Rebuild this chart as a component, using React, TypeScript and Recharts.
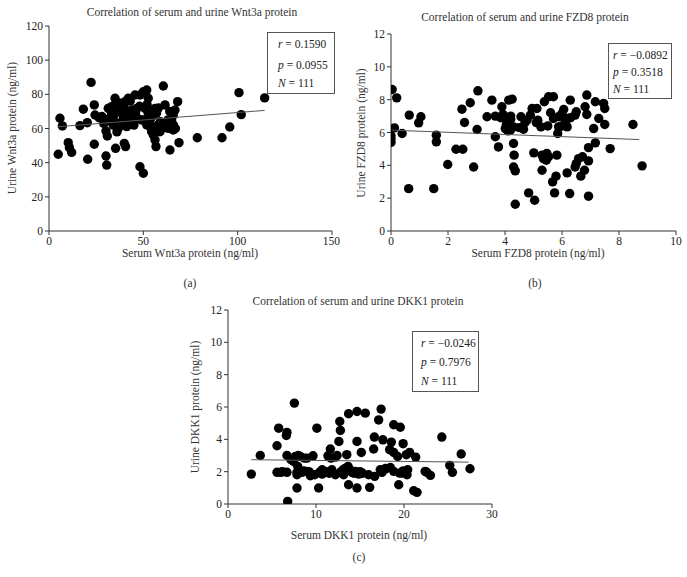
import { ScatterChart, Scatter, XAxis, YAxis } from "recharts";

// serum (x) vs urine (y), ng/ml
const wnt3aPoints: [number, number][] = [
  [22.3, 87.0], [60.6, 84.9], [5.8, 66], [7.1, 61.5], [4.9, 44.9], [10.2, 51.7], [10.8, 48.8], [12, 46],
  [16.4, 61.7], [18.2, 71.3], [20.3, 63.4], [20.5, 42], [24, 73.8], [24, 50.8], [24.4, 67.9], [26.5, 66.3],
  [28.8, 65.4], [30.6, 64.4], [30.2, 58.5], [30.9, 55.6], [30.2, 43.9], [30.6, 38.6], [31.4, 71.8], [33.2, 72.8],
  [34.1, 66.9], [35, 77.7], [35.3, 74.8], [35.9, 63.1], [35.3, 48.4], [36.7, 60.1], [37.1, 71.8], [38.5, 68.9],
  [40.3, 75.7], [39.9, 51.3], [40.6, 49.4], [41.2, 61.1], [39.4, 66], [42, 77.7], [42.9, 66.9], [44.1, 70.8],
  [45.6, 79.6], [48.2, 79.6], [46.5, 71.8], [48.2, 37.6], [50, 33.8], [50, 81.5], [51.8, 82.5], [52.6, 77.7],
  [50.9, 71.8], [52.6, 68.9], [50, 65], [51.8, 62.1], [53.5, 61.1], [54.4, 58.1], [55.3, 56.2], [56.2, 53.3],
  [56.7, 49.4], [55.3, 67.9], [56.2, 71.8], [57.9, 62.1], [58.8, 58.1], [61.5, 73.8], [60.6, 61.1], [63.2, 60.1],
  [64.1, 47.4], [65, 63.1], [65.9, 67.9], [66.8, 70.8], [68.2, 75.7], [65.9, 59.1], [68.9, 51.7], [65, 65],
  [78.6, 54.6], [91.7, 54.6], [95.8, 60.9], [100.7, 81], [101.9, 68.1], [114.3, 77.9],
  [33, 70], [37, 75], [38, 73], [40, 72], [43, 76], [44, 68], [46, 70], [47, 66], [48, 73], [52, 74], [53, 70],
  [54, 66], [57, 69], [58, 72], [60, 60], [62, 62], [63, 65], [66, 62], [67, 60], [45, 62], [42, 64], [39, 62],
  [36, 58], [34, 62], [32, 66], [28, 67], [29, 63], [35, 70], [41, 68], [49, 65], [55, 61], [59, 64], [64, 70],
];
const wnt3aTrend: [number, number][] = [[4.5, 61], [114.3, 70.6]];

const fzd8Points: [number, number][] = [
  [0.04, 8.62], [0.2, 8.11], [0.12, 6.28], [0, 5.8], [0, 5.6], [0, 5.4], [0.39, 5.94], [0.62, 2.58], [0.64, 7.06],
  [0.97, 6.59], [1.05, 6.96], [1.5, 2.58], [1.59, 5.84], [1.59, 5.43], [1.99, 4.05], [2.28, 4.98], [2.52, 4.98],
  [2.49, 7.42], [2.58, 6.61], [2.78, 7.81], [2.9, 3.9], [3.05, 8.54], [3.02, 6.18], [3.37, 6.96], [3.54, 7.97],
  [3.66, 5.74], [3.77, 5.12], [3.66, 7.0], [3.89, 7.57], [3.93, 7.1], [4.01, 6.24], [4.07, 6.75], [4.13, 7.97],
  [4.25, 8.03], [4.19, 6.14], [4.3, 6.34], [4.3, 5.33], [4.32, 4.62], [4.3, 3.9], [4.36, 3.66], [4.36, 1.63],
  [4.56, 6.96], [4.65, 6.2], [4.77, 6.75], [4.89, 7.06], [4.95, 7.46], [4.83, 2.32], [5.01, 4.76], [5.04, 1.87],
  [5.12, 7.46], [5.15, 6.75], [5.26, 6.34], [5.3, 4.62], [5.3, 3.7], [5.38, 7.87], [5.45, 4.31], [5.53, 4.52],
  [5.53, 8.18], [5.47, 4.72], [5.7, 8.18], [5.67, 2.99], [5.7, 6.85], [5.74, 2.32], [5.79, 3.34], [5.82, 4.62],
  [5.85, 5.94], [5.88, 6.34], [5.88, 6.96], [6.0, 7.16], [6.06, 7.4], [6.12, 6.71], [6.18, 6.85], [6.18, 6.34],
  [6.18, 3.54], [6.29, 7.97], [6.27, 2.28], [6.46, 3.9], [6.5, 4.11], [6.5, 7.26], [6.46, 7.06], [6.58, 4.41],
  [6.72, 4.52], [6.66, 3.34], [6.79, 3.7], [6.81, 7.57], [6.87, 8.28], [6.87, 7.1], [6.93, 5.08], [6.93, 4.27],
  [6.93, 2.12], [7.11, 6.24], [7.17, 7.87], [7.17, 5.37], [7.29, 6.85], [7.46, 7.77], [7.5, 7.46], [7.5, 6.49],
  [7.69, 5.02], [8.49, 6.49], [8.81, 3.97],
  [4.05, 6.5], [4.2, 7.0], [4.5, 6.3], [4.7, 6.6], [5.1, 6.6], [5.5, 6.4], [5.6, 7.2], [6.0, 6.4], [6.3, 6.9],
  [3.85, 6.9], [4.1, 6.1], [5.35, 4.4], [4.2, 6.8],
];
const fzd8Trend: [number, number][] = [[0.04, 6.14], [8.71, 5.57]];

const dkk1Points: [number, number][] = [
  [2.65, 1.85], [3.67, 3.0], [5.57, 1.96], [5.57, 3.6], [5.76, 4.69], [6.02, 1.96], [6.63, 4.24], [6.7, 4.43],
  [6.7, 3.0], [6.7, 1.96], [6.78, 0.16], [7.16, 2.74], [7.54, 6.24], [7.46, 2.63], [7.65, 2.94], [7.84, 1.96],
  [7.84, 1.81], [7.84, 0.99], [7.92, 2.33], [8.22, 2.94], [8.4, 1.96], [8.67, 2.84], [8.98, 2.02], [8.98, 2.84],
  [9.36, 1.75], [9.66, 2.98], [9.85, 1.81], [10.1, 4.69], [10.3, 0.99], [10.4, 1.96], [10.7, 2.12], [11.06, 1.96],
  [11.36, 2.98], [11.63, 3.4], [11.7, 2.84], [11.8, 2.12], [12.2, 1.81], [12.4, 3.0], [12.6, 3.87], [12.7, 5.1],
  [12.77, 4.55], [12.77, 1.96], [13.07, 2.12], [13.14, 1.81], [13.5, 3.05], [13.64, 2.33], [13.7, 5.58], [13.7, 1.19],
  [14.1, 1.96], [14.47, 2.02], [14.66, 5.72], [14.66, 3.87], [14.66, 0.99], [14.85, 1.85], [15.15, 3.19], [15.6, 5.62],
  [15.98, 1.81], [16.1, 1.03], [16.55, 3.4], [16.63, 4.14], [16.67, 1.71], [17.12, 5.2], [17.3, 2.12], [17.4, 5.87],
  [17.5, 1.96], [17.6, 3.97], [17.88, 2.16], [18.37, 3.36], [18.45, 2.26], [18.56, 3.83], [18.83, 3.19], [18.83, 2.02],
  [18.83, 4.9], [19.28, 2.94], [19.4, 1.19], [19.5, 1.91], [19.58, 4.75], [19.85, 1.91], [19.9, 3.73], [20.08, 1.96],
  [20.27, 3.05], [20.34, 1.81], [20.64, 3.19], [20.42, 2.12], [21.1, 0.82], [21.48, 0.72], [21.33, 2.9], [22.4, 2.02],
  [22.6, 1.96], [23.0, 1.77], [24.3, 4.14], [25.2, 2.39], [25.5, 1.96], [26.5, 3.09], [27.5, 2.18],
  [9.2, 2.0], [11.5, 1.9], [12.9, 2.0], [13.3, 2.2], [14.3, 1.9], [15.3, 1.9], [10.7, 1.85], [8.6, 2.05],
  [6.2, 2.0], [12.2, 2.9], [15.0, 2.0], [17.9, 2.2], [19.9, 2.05], [8.0, 3.0], [11.2, 2.0], [13.9, 2.1],
];
const dkk1Trend: [number, number][] = [[2.65, 2.74], [27.35, 2.59]];

const wnt3aXTicks = [0, 50, 100, 150];
const wnt3aYTicks = [0, 20, 40, 60, 80, 100, 120];
const fzd8XTicks = [0, 2, 4, 6, 8, 10];
const fzd8YTicks = [0, 2, 4, 6, 8, 10, 12];
const dkk1XTicks = [0, 10, 20, 30];
const dkk1YTicks = [0, 2, 4, 6, 8, 10, 12];

const wnt3aStats = ["0.1590", "0.0955", "111"];
const fzd8Stats = ["\u22120.0892", "0.3518", "111"];
const dkk1Stats = ["\u22120.0246", "0.7976", "111"];

const FONT = "'Liberation Serif', 'DejaVu Serif', serif";
const AXIS = "#333";
const FS = 11.5;

const toObj = (pts: [number, number][]) => pts.map(([x, y]) => ({ x, y }));

const Dot = (p: any) => <circle cx={p.cx} cy={p.cy} r={4.7} fill="#000" />;
const NoDot = () => <g />;

interface PanelProps {
  left: number;
  top: number;
  width: number;
  height: number;
  margin: { top: number; right: number; bottom: number; left: number };
  points: [number, number][];
  trend: [number, number][];
  xDomain: [number, number];
  yDomain: [number, number];
  xTicks: number[];
  yTicks: number[];
}

function Panel(props: PanelProps) {
  const { left, top, width, height, margin, points, trend, xDomain, yDomain, xTicks, yTicks } = props;
  const tick = { fontSize: FS, fill: "#222", fontFamily: FONT };
  return (
    <div style={{ position: "absolute", left, top }}>
      <ScatterChart width={width} height={height} margin={margin}>
        <XAxis
          type="number"
          dataKey="x"
          domain={xDomain}
          ticks={xTicks}
          tick={tick}
          tickSize={4}
          height={30}
          stroke={AXIS}
          allowDataOverflow
        />
        <YAxis
          type="number"
          dataKey="y"
          domain={yDomain}
          ticks={yTicks}
          tick={tick}
          tickSize={4}
          width={30}
          stroke={AXIS}
          allowDataOverflow
        />
        <Scatter data={toObj(points)} shape={Dot} isAnimationActive={false} />
        <Scatter
          data={toObj(trend)}
          line={{ stroke: "#555", strokeWidth: 1 }}
          shape={NoDot}
          isAnimationActive={false}
        />
      </ScatterChart>
    </div>
  );
}

function Text({ x, y, children }: any) {
  return (
    <div
      style={{
        position: "absolute",
        left: x,
        top: y,
        transform: "translate(-50%, -50%)",
        fontFamily: FONT,
        fontSize: FS,
        color: "#333",
        whiteSpace: "nowrap",
      }}
    >
      {children}
    </div>
  );
}

function VText({ x, y, children }: any) {
  return (
    <div
      style={{
        position: "absolute",
        left: x,
        top: y,
        transform: "translate(-50%, -50%) rotate(-90deg)",
        fontFamily: FONT,
        fontSize: FS,
        color: "#333",
        whiteSpace: "nowrap",
      }}
    >
      {children}
    </div>
  );
}

function StatsBox({ x, y, w, h, stats, rows }: any) {
  return (
    <div
      style={{
        position: "absolute",
        left: x,
        top: y,
        width: w,
        height: h,
        border: "1.5px solid #555",
        background: "#fff",
        boxSizing: "border-box",
        fontFamily: FONT,
        fontSize: FS,
        color: "#222",
      }}
    >
      {["r", "p", "N"].map((k, i) => (
        <div key={k} style={{ position: "absolute", left: rows.left, top: rows.top[i], whiteSpace: "nowrap", lineHeight: "12px" }}>
          <i>{k}</i> = {stats[i]}
        </div>
      ))}
    </div>
  );
}

export default function App() {
  return (
    <div style={{ position: "absolute", left: 0, top: 0, width: 687, height: 577, background: "#fff", overflow: "hidden" }}>
      <Panel
        left={0}
        top={0}
        width={340}
        height={290}
        margin={{ top: 26, right: 8, bottom: 29, left: 19 }}
        points={wnt3aPoints}
        trend={wnt3aTrend}
        xDomain={[0, 150]}
        yDomain={[0, 120]}
        xTicks={wnt3aXTicks}
        yTicks={wnt3aYTicks}
      />
      <Panel
        left={340}
        top={0}
        width={347}
        height={290}
        margin={{ top: 34, right: 11, bottom: 29, left: 21 }}
        points={fzd8Points}
        trend={fzd8Trend}
        xDomain={[0, 10]}
        yDomain={[0, 12]}
        xTicks={fzd8XTicks}
        yTicks={fzd8YTicks}
      />
      <Panel
        left={160}
        top={290}
        width={360}
        height={287}
        margin={{ top: 20, right: 28, bottom: 43, left: 38 }}
        points={dkk1Points}
        trend={dkk1Trend}
        xDomain={[0, 30]}
        yDomain={[0, 12]}
        xTicks={dkk1XTicks}
        yTicks={dkk1YTicks}
      />

      <Text x={192} y={12}>Correlation of serum and urine Wnt3a protein</Text>
      <Text x={525} y={17}>Correlation of serum and urine FZD8 protein</Text>
      <Text x={358} y={301}>Correlation of serum and urine DKK1 protein</Text>

      <Text x={190} y={253}>Serum Wnt3a protein (ng/ml)</Text>
      <Text x={538} y={253}>Serum FZD8 protein (ng/ml)</Text>
      <Text x={359} y={535}>Serum DKK1 protein (ng/ml)</Text>

      <Text x={190} y={283}>(a)</Text>
      <Text x={535} y={283}>(b)</Text>
      <Text x={359} y={557}>(c)</Text>

      <VText x={12} y={128}>Urine Wnt3a protein (ng/ml)</VText>
      <VText x={361} y={133}>Urine FZD8 protein (ng/ml)</VText>
      <VText x={195} y={407}>Urine DKK1 protein (ng/ml)</VText>

      <StatsBox x={267} y={32} w={68} h={62} stats={wnt3aStats} rows={{ left: 10, top: [5, 26, 44] }} />
      <StatsBox x={608} y={43} w={64} h={56} stats={fzd8Stats} rows={{ left: 4, top: [5, 22, 39] }} />
      <StatsBox x={412} y={331} w={67} h={61} stats={dkk1Stats} rows={{ left: 8, top: [5, 24, 43] }} />
    </div>
  );
}
